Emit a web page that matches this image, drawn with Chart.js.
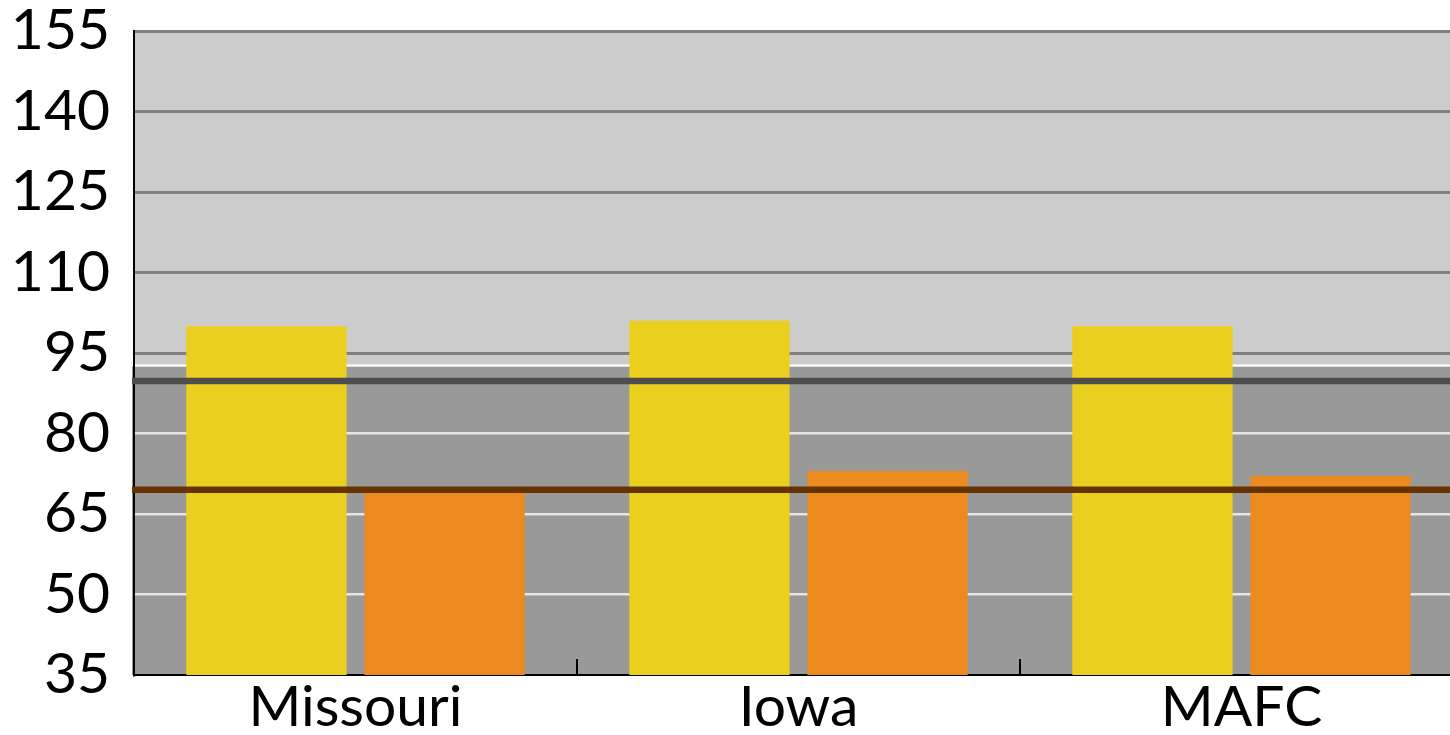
<!DOCTYPE html>
<html>
<head>
<meta charset="utf-8">
<title>Missouri / Iowa / MAFC</title>
<script src="https://cdn.jsdelivr.net/npm/chart.js@4.4.1/dist/chart.umd.min.js"></script>
<style>
    html, body { margin: 0; padding: 0; background: #fff; }
    #frame { width: 1450px; height: 735px; overflow: hidden; position: relative; }
    #wrap { width: 1480px; height: 735px; position: absolute; left: 0; top: 0; }
</style>
</head>
<body>
<div id="frame"><div id="wrap"><canvas id="barChart"></canvas></div></div>
<script>
// ── Data ──
const categories = ['Missouri', 'Iowa', 'MAFC'];
const yellowValues = [100, 101, 100];
const orangeValues = [69.8, 73, 72.1];
const yTickValues = [35, 50, 65, 80, 95, 110, 125, 140, 155];
const bandSplit = 92.5;          // light band above, dark band below
const refLineValues = [89.8, 69.5];
const refLineColors = ['#4d4d4d', '#663300'];

const FONT = 'Lato, "Open Sans", sans-serif';

// ── Two-tone plot background ──
const bandBackground = {
    id: 'bandBackground',
    beforeDraw(chart) {
        const { ctx, chartArea: a, scales: { y } } = chart;
        const split = y.getPixelForValue(bandSplit);
        ctx.save();
        ctx.fillStyle = '#cccccc';
        ctx.fillRect(a.left, a.top, a.right - a.left, split - a.top);
        ctx.fillStyle = '#999999';
        ctx.fillRect(a.left - 2, split, a.right - a.left + 2, a.bottom - split);
        ctx.strokeStyle = '#ffffff';
        ctx.lineWidth = 2;
        ctx.beginPath();
        ctx.moveTo(a.left, split - 1);
        ctx.lineTo(a.right, split - 1);
        ctx.stroke();
        ctx.restore();
    }
};

// ── Reference lines + category tick marks ──
const overlays = {
    id: 'overlays',
    afterDatasetsDraw(chart) {
        const { ctx, chartArea: a, scales: { x, y } } = chart;
        ctx.save();
        refLineValues.forEach((v, i) => {
            const py = y.getPixelForValue(v);
            ctx.strokeStyle = refLineColors[i];
            ctx.lineWidth = 6.5;
            ctx.beginPath();
            ctx.moveTo(a.left - 2, py);
            ctx.lineTo(a.right, py);
            ctx.stroke();
        });
        ctx.strokeStyle = '#000';
        ctx.lineWidth = 2;
        for (let i = 1; i < categories.length; i++) {
            const px = Math.round((x.getPixelForValue(i - 1) + x.getPixelForValue(i)) / 2);
            ctx.beginPath();
            ctx.moveTo(px, a.bottom);
            ctx.lineTo(px, a.bottom - 16);
            ctx.stroke();
        }
        ctx.restore();
    }
};

new Chart(document.getElementById('barChart'), {
    type: 'bar',
    data: {
        labels: categories,
        datasets: [
            { data: yellowValues, backgroundColor: '#ebcf1f', barPercentage: 0.9, categoryPercentage: 0.804 },
            { data: orangeValues, backgroundColor: '#eb8a1f', barPercentage: 0.9, categoryPercentage: 0.804 }
        ]
    },
    options: {
        responsive: true,
        maintainAspectRatio: false,
        devicePixelRatio: 1,
        animation: false,
        layout: { padding: { left: 0, right: 17, top: 31, bottom: 0 } },
        plugins: { legend: { display: false }, tooltip: { enabled: false } },
        scales: {
            x: {
                grid: { display: false },
                border: { display: true, color: '#000', width: 2 },
                ticks: { color: '#000', padding: -4, font: { family: FONT, size: 57, lineHeight: 1 } },
                afterFit(scale) {
                    scale.height = 60;
                    scale.paddingLeft = 0;
                    scale.paddingRight = 0;
                }
            },
            y: {
                min: yTickValues[0],
                max: yTickValues[yTickValues.length - 1],
                afterBuildTicks(scale) {
                    scale.ticks = yTickValues.map(v => ({ value: v }));
                },
                grid: {
                    drawTicks: false,
                    color: c => (c.tick.value === yTickValues[0] ? 'transparent' : (c.tick.value > bandSplit ? '#808080' : '#e6e6e6')),
                    lineWidth: c => (c.tick.value > bandSplit ? 3 : 2.5)
                },
                border: { display: true, color: '#000', width: 2 },
                ticks: { color: '#000', padding: 24, font: { family: FONT, size: 57, lineHeight: 1 } },
                afterFit(scale) {
                    scale.width = 134;
                    scale.paddingTop = 0;
                    scale.paddingBottom = 0;
                }
            }
        }
    },
    plugins: [bandBackground, overlays]
});
</script>
</body>
</html>
